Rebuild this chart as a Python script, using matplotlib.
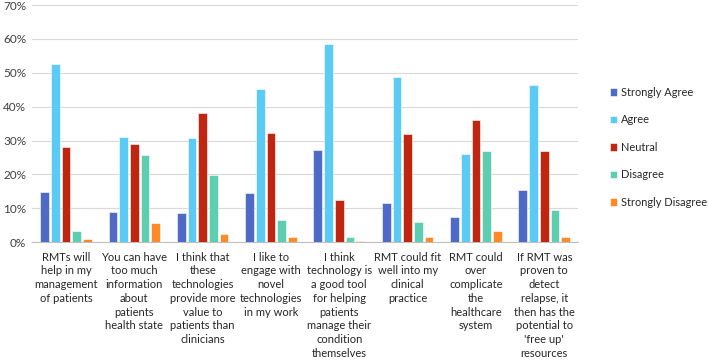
import matplotlib
matplotlib.use("Agg")
import matplotlib.pyplot as plt
import numpy as np

categories = [
    "RMTs will\nhelp in my\nmanagement\nof patients",
    "You can have\ntoo much\ninformation\nabout\npatients\nhealth state",
    "I think that\nthese\ntechnologies\nprovide more\nvalue to\npatients than\nclinicians",
    "I like to\nengage with\nnovel\ntechnologies\nin my work",
    "I think\ntechnology is\na good tool\nfor helping\npatients\nmanage their\ncondition\nthemselves",
    "RMT could fit\nwell into my\nclinical\npractice",
    "RMT could\nover\ncomplicate\nthe\nhealthcare\nsystem",
    "If RMT was\nproven to\ndetect\nrelapse, it\nthen has the\npotential to\n'free up'\nresources",
]
series_names = ["Strongly Agree", "Agree", "Neutral", "Disagree", "Strongly Disagree"]
strongly_agree = [14.8, 8.8, 8.7, 14.4, 27.2, 11.4, 7.5, 15.3]
agree = [52.7, 31.0, 30.8, 45.2, 58.4, 48.9, 26.0, 46.3]
neutral = [28.1, 29.0, 38.1, 32.1, 12.4, 31.9, 36.1, 26.9]
disagree = [3.4, 25.6, 19.9, 6.6, 1.5, 5.9, 26.8, 9.6]
strongly_disagree = [1.0, 5.6, 2.4, 1.6, 0.3, 1.4, 3.2, 1.4]
colors = ["#4F69C6", "#5BCBF5", "#C0260F", "#5DCFB0", "#FF8A28"]

plt.rcParams["font.family"] = ["Lato", "DejaVu Sans"]

fig = plt.figure(figsize=(7.08, 3.64), dpi=100)
ax = fig.add_axes([0.045, 0.335, 0.772, 0.651])

x = np.arange(len(categories))
step = 0.157
width = 0.128
all_series = [strongly_agree, agree, neutral, disagree, strongly_disagree]
for i, (vals, name, c) in enumerate(zip(all_series, series_names, colors)):
    ax.bar(x + (i - 2) * step, vals, width, color=c, label=name,
           edgecolor="white", linewidth=0.4, zorder=3)

ax.set_xlim(-0.5, len(categories) - 0.5)
ax.set_ylim(0, 70)
ax.set_yticks(range(0, 71, 10))
ax.set_yticklabels([f"{v}%" for v in range(0, 71, 10)])
ax.yaxis.grid(True, color="#D9D9D9", linewidth=0.8, zorder=0)
for s in ["top", "right", "left"]:
    ax.spines[s].set_visible(False)
ax.spines["bottom"].set_color("#BFBFBF")
ax.tick_params(axis="y", length=0, labelsize=8.5, labelcolor="#404040", pad=4)
ax.tick_params(axis="x", length=0, labelsize=8, labelcolor="#262626", pad=7)
ax.set_xticks(x)
ax.set_xticklabels(categories, linespacing=1.3)

ax.legend(loc="center left", bbox_to_anchor=(1.045, 0.40), frameon=False,
          fontsize=7.9, handlelength=0.7, handleheight=0.7, handletextpad=0.3,
          labelspacing=1.5, labelcolor="#262626", borderaxespad=0.2)

fig.savefig("out.png", dpi=100)
